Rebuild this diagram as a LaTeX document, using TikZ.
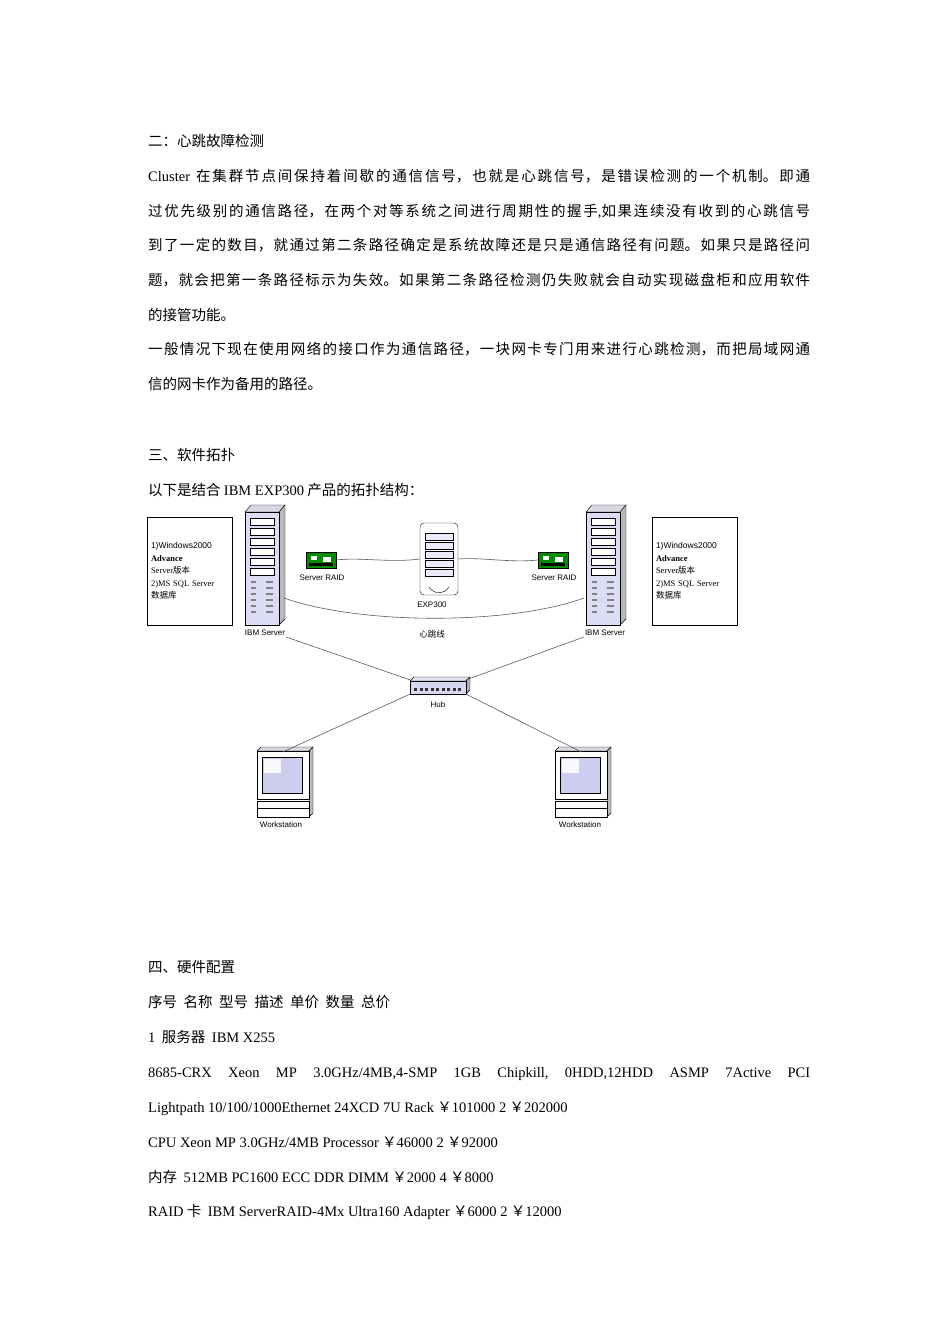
\documentclass[tikz,border=0pt]{standalone}
\usepackage{fontspec}
\setmainfont{Noto Sans CJK SC}
\newfontfamily\lat{Liberation Serif}
\newfontfamily\ars{Liberation Sans}
\XeTeXlinebreaklocale "zh"
\XeTeXlinebreakskip=0pt plus 4pt
\hbadness=10000
\definecolor{lav}{RGB}{205,205,240}
\definecolor{srvgray}{RGB}{215,215,225}
\newcommand\jl[1]{\vbox{\hsize=662pt\parindent=0pt\parfillskip=0pt\leftskip=0pt\rightskip=0pt\noindent #1\par}}
\begin{document}
\begin{tikzpicture}[x=1pt,y=-1pt,
  txt/.style={anchor=base west,inner sep=0pt,font=\fontsize{14.5}{16}\selectfont},
  lbl/.style={font=\ars\fontsize{8}{9}\selectfont,inner sep=1pt},
  note/.style={draw,thin,minimum width=85pt,minimum height=108pt,align=left,text width=78pt,font=\fontsize{8.5}{12.5}\selectfont},
  wire/.style={gray!70!black,line width=0.6pt},
  pics/server/.style={code={
    \draw[fill=srvgray] (-17,-55) -- (-11,-62) -- (23,-62) -- (17,-55) -- cycle;
    \draw[fill=gray!55] (17,-55) -- (23,-62) -- (23,52) -- (17,58) -- cycle;
    \draw[fill=lav!70] (-17,-55) rectangle (17,58);
    \foreach \k in {0,...,5}{\draw[fill=white] (-12,-49+\k*10) rectangle (12,-42+\k*10);}
    \foreach \k in {0,...,5}{\fill[gray] (-11,14+\k*6) rectangle (-6,15.5+\k*6); \fill[gray] (4,14+\k*6) rectangle (11,15.5+\k*6);}
  }},
  pics/raid/.style={code={
    \draw[fill=green!55!black] (-15,-8) rectangle (15,8);
    \fill[white] (-10,-4) rectangle (-4,0); \fill[white] (2,-3) rectangle (10,2);
    \fill[black] (-12,3) rectangle (12,6);
  }},
  pics/exp/.style={code={
    \draw[fill=white,rounded corners=4pt] (-19,-36) rectangle (19,36);
    \foreach \k in {0,...,4}{\draw[fill=lav!40] (-14,-26+\k*9) rectangle (14,-19+\k*9);}
    \draw (-10,28) arc[start angle=150,end angle=30,radius=11.5];
  }},
  pics/hub/.style={code={
    \draw[fill=lav!60] (-28,-6) -- (-24,-10) -- (32,-10) -- (28,-6) -- cycle;
    \draw[fill=gray!60] (28,-6) -- (32,-10) -- (32,3) -- (28,7) -- cycle;
    \draw[fill=lav!80] (-28,-6) rectangle (28,7);
    \foreach \k in {0,...,8}{\fill[gray!40!black] (-24+\k*5.5,1) rectangle (-21+\k*5.5,4);}
  }},
  pics/ws/.style={code={
    \draw[fill=srvgray] (-26,-34) -- (-22,-38) -- (30,-38) -- (26,-34) -- cycle;
    \draw[fill=gray!55] (26,-34) -- (30,-38) -- (30,28) -- (26,32) -- cycle;
    \draw[fill=white] (-26,-34) rectangle (26,14);
    \draw[fill=lav] (-21,-28) rectangle (19,8);
    \fill[white!85!lav] (-19,-26) rectangle (-2,-12);
    \draw[fill=white] (-26,16) rectangle (26,32);
    \draw (-26,23) -- (26,23);
  }}]
\useasboundingbox (0,0) rectangle (950,1344);
% text
\node[txt] (t1) at (148,146) {二：心跳故障检测};
\node[txt] (t2) at (148,181) {\jl{{\lat Cluster}\hspace{6pt}在集群节点间保持着间歇的通信信号，也就是心跳信号，是错误检测的一个机制。即通}};
\node[txt] (t3) at (148,216) {\jl{过优先级别的通信路径，在两个对等系统之间进行周期性的握手{\lat ,}如果连续没有收到的心跳信号}};
\node[txt] (t4) at (148,250) {\jl{到了一定的数目，就通过第二条路径确定是系统故障还是只是通信路径有问题。如果只是路径问}};
\node[txt] (t5) at (148,285) {\jl{题，就会把第一条路径标示为失效。如果第二条路径检测仍失败就会自动实现磁盘柜和应用软件}};
\node[txt] (t6) at (148,320) {的接管功能。};
\node[txt] (t7) at (148,354) {\jl{一般情况下现在使用网络的接口作为通信路径，一块网卡专门用来进行心跳检测，而把局域网通}};
\node[txt] (t8) at (148,389) {信的网卡作为备用的路径。};
\node[txt] (t9) at (148,460) {三、软件拓扑};
\node[txt] (t10) at (148,495) {以下是结合 {\lat IBM EXP300} 产品的拓扑结构：};
\node[txt] (t11) at (148,972) {四、硬件配置};
\node[txt] (t12) at (148,1007) {序号\ \ 名称\ \ 型号\ \ 描述\ \ 单价\ \ 数量\ \ 总价};
\node[txt] (t13) at (148,1042) {{\lat 1}\ \ 服务器\ \ {\lat IBM X255}};
\node[txt] (t14) at (148,1077) {\lat\hbox to 662pt{8685-CRX\hfil Xeon\hfil MP\hfil 3.0GHz/4MB,4-SMP\hfil 1GB\hfil Chipkill,\hfil 0HDD,12HDD\hfil ASMP\hfil 7Active\hfil PCI}};
\node[txt] (t15) at (148,1112) {{\lat Lightpath 10/100/1000Ethernet 24XCD 7U Rack}\ ￥{\lat 101000 2}\ ￥{\lat 202000}};
\node[txt] (t16) at (148,1147) {{\lat CPU Xeon MP 3.0GHz/4MB Processor}\ ￥{\lat 46000 2}\ ￥{\lat 92000}};
\node[txt] (t17) at (148,1182) {内存\ \ {\lat 512MB PC1600 ECC DDR DIMM}\ ￥{\lat 2000 4}\ ￥{\lat 8000}};
\node[txt] (t18) at (148,1216) {{\lat RAID} 卡\ \ {\lat IBM ServerRAID-4Mx Ultra160 Adapter} ￥{\lat 6000 2}\ ￥{\lat 12000}};
% diagram
\node[note] (nl) at (190,571) {{\ars 1)Windows2000}\\{\lat\bfseries Advance}\\{\lat Server}版本\\{\lat 2)MS SQL Server}\\数据库};
\node[note] (nr) at (695,571) {{\ars 1)Windows2000}\\{\lat\bfseries Advance}\\{\lat Server}版本\\{\lat 2)MS SQL Server}\\数据库};
\node[minimum width=40pt,minimum height=120pt] (ls) at (262,567) {};
\node[minimum width=40pt,minimum height=120pt] (rs) at (603,567) {};
\pic at (ls.center) {server};
\pic at (rs.center) {server};
\node[lbl] (lsl) at (265,633) {IBM Server};
\node[lbl] (rsl) at (605,633) {IBM Server};
\node[minimum width=30pt,minimum height=16pt] (lr) at (321,560) {};
\node[minimum width=30pt,minimum height=16pt] (rr) at (553,560) {};
\pic at (lr.center) {raid};
\pic at (rr.center) {raid};
\node[lbl] (lrl) at (322,578) {Server RAID};
\node[lbl] (rrl) at (554,578) {Server RAID};
\node[minimum width=38pt,minimum height=72pt] (ex) at (439,559) {};
\pic at (ex.center) {exp};
\node[lbl] (exl) at (432,605) {EXP300};
\node[minimum width=56pt,minimum height=14pt] (hub) at (438,687) {};
\pic at (hub.center) {hub};
\node[lbl] (hubl) at (438,705) {Hub};
\node[minimum width=52pt,minimum height=66pt] (lw) at (283,785) {};
\node[minimum width=52pt,minimum height=66pt] (rw) at (581,785) {};
\pic at (lw.center) {ws};
\pic at (rw.center) {ws};
\node[lbl] (lwl) at (281,825) {Workstation};
\node[lbl] (rwl) at (580,825) {Workstation};
\node[font=\fontsize{8.5}{9}\selectfont,inner sep=1pt] (hb) at (432,634) {心跳线};
% connectors
\draw[wire] (lr.east) .. controls (360,557) and (390,563) .. (ex.west);
\draw[wire] (ex.east) .. controls (480,557) and (510,563) .. (rr.west);
\draw[wire] (284,598) .. controls (360,625) and (510,625) .. (584,598);
\draw[wire] (lsl.south east) -- (hub.north west);
\draw[wire] (rsl.south west) -- (hub.north east);
\draw[wire] (hub.south west) -- (lw.north);
\draw[wire] (hub.south east) -- (rw.north);
\end{tikzpicture}
\end{document}
